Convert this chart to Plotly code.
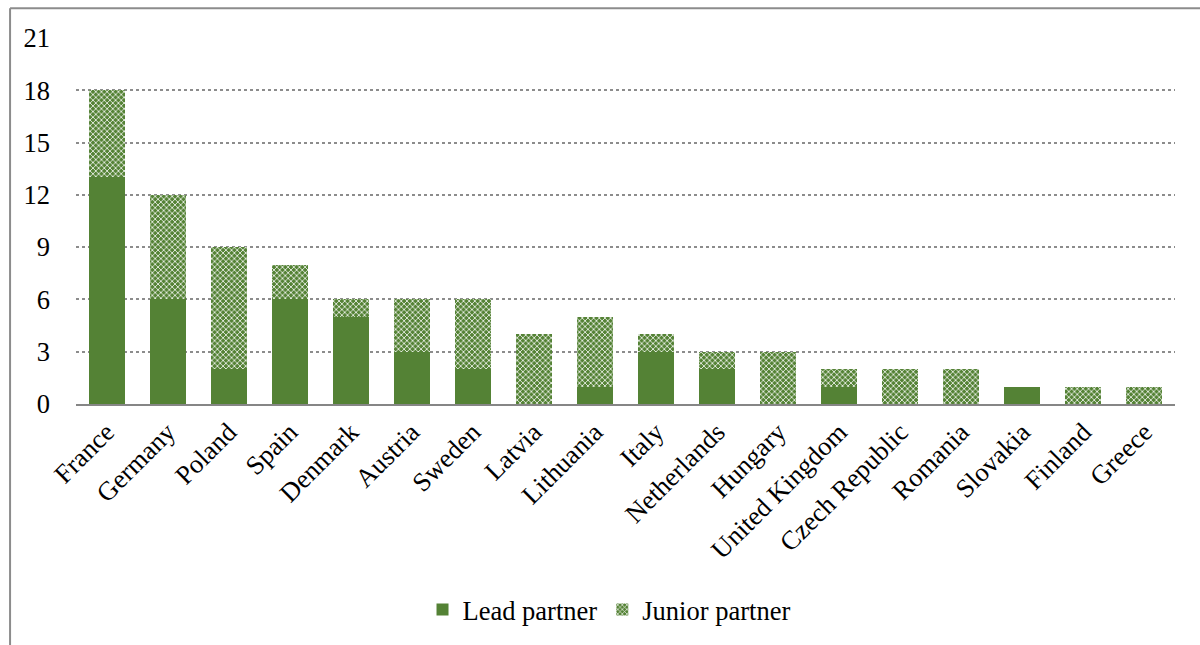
import plotly.graph_objects as go

countries = ["France", "Germany", "Poland", "Spain", "Denmark", "Austria", "Sweden", "Latvia",
             "Lithuania", "Italy", "Netherlands", "Hungary", "United Kingdom", "Czech Republic",
             "Romania", "Slovakia", "Finland", "Greece"]
lead = [13, 6, 2, 6, 5, 3, 2, 0, 1, 3, 2, 0, 1, 0, 0, 1, 0, 0]
junior = [5, 6, 7, 2, 1, 3, 4, 4, 4, 1, 1, 3, 1, 2, 2, 0, 1, 1]
yticks = [0, 3, 6, 9, 12, 15, 18, 21]

green = "#548235"
font = "Liberation Serif, Times New Roman, serif"
fs = 26.5

fig = go.Figure()
fig.add_trace(go.Bar(x=countries, y=lead, name="Lead partner", marker=dict(color=green, line=dict(width=0))))
fig.add_trace(go.Bar(x=countries, y=junior, name="Junior partner",
                     marker=dict(color=green, line=dict(width=0),
                                 pattern=dict(shape="x", fgcolor="white", bgcolor=green,
                                              size=4, solidity=0.35, fillmode="replace"))))

fig.update_layout(
    barmode="stack", bargap=0.41,
    width=1200, height=645,
    margin=dict(l=76, r=25, t=38, b=238),
    paper_bgcolor="white", plot_bgcolor="white",
    font=dict(family=font, size=fs, color="black"),
    showlegend=True,
    legend=dict(orientation="h", x=0.485, xanchor="center", y=-0.562, yanchor="middle",
                font=dict(family=font, size=fs, color="black"), itemwidth=30, traceorder="normal"),
    xaxis=dict(tickangle=-45, showgrid=False, showline=True, linecolor="#868686", linewidth=2,
               ticks="", tickfont=dict(family=font, size=fs, color="black")),
    yaxis=dict(range=[0, 21], tickvals=yticks, showgrid=True, gridcolor="#8c8c8c", griddash="dot",
               gridwidth=1.5, zeroline=False, showline=False, ticks="", ticklabelstandoff=25,
               tickfont=dict(family=font, size=fs, color="black")),
    shapes=[
        dict(type="line", xref="paper", yref="paper", x0=-0.060, x1=1.05, y0=1.081, y1=1.081,
             line=dict(color="#8c8c8c", width=2)),
        dict(type="line", xref="paper", yref="paper", x0=-0.060, x1=-0.060, y0=1.081, y1=-0.7,
             line=dict(color="#8c8c8c", width=2)),
    ],
)

fig.write_html("out.html")
